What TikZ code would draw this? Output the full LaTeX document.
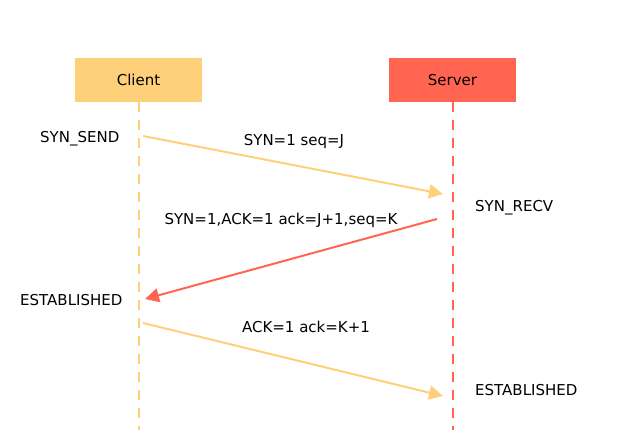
\documentclass[tikz,border=0pt]{standalone}
\usepackage{fontspec}
\setmainfont{DejaVu Sans}
\usetikzlibrary{arrows.meta}
\definecolor{cliC}{HTML}{FFD07A}
\definecolor{srvC}{HTML}{FF6550}
\begin{document}
\begin{tikzpicture}[x=1pt,y=-1pt,
  actor/.style={minimum width=127pt,minimum height=44pt,inner sep=0pt,font=\fontsize{15}{18}\selectfont},
  life/.style={line width=2pt,dash pattern=on 10pt off 8pt},
  msg/.style={line width=2pt,-{Triangle[length=14pt,width=14pt]}},
  lbl/.style={font=\fontsize{15}{18}\selectfont,inner sep=0pt}]
\useasboundingbox (0,0) rectangle (634,439);
\node[actor,fill=cliC] (client) at (138.5,80) {Client};
\node[actor,fill=srvC] (server) at (452.5,80) {Server};
\coordinate (cend) at (138.5,430);
\coordinate (send) at (452.5,430);
\draw[life,cliC] (client.south) -- (cend);
\draw[life,srvC] (server.south) -- (send);
\coordinate (a1s) at (143,136);
\coordinate (a1e) at (443,194);
\coordinate (a2s) at (437,219);
\coordinate (a2e) at (145,299);
\coordinate (a3s) at (143,323);
\coordinate (a3e) at (443,396);
\draw[msg,cliC] (a1s) -- (a1e);
\draw[msg,srvC] (a2s) -- (a2e);
\draw[msg,cliC] (a3s) -- (a3e);
\node[lbl] (l1) at (294,141) {SYN=1 seq=J};
\node[lbl] (l2) at (281,220) {SYN=1,ACK=1 ack=J+1,seq=K};
\node[lbl] (l3) at (306,327) {ACK=1 ack=K+1};
\node[lbl,anchor=west] (s1) at (40,139) {SYN\_SEND};
\node[lbl,anchor=west] (s2) at (475,208) {SYN\_RECV};
\node[lbl,anchor=west] (s3) at (20,300) {ESTABLISHED};
\node[lbl,anchor=west] (s4) at (475,390) {ESTABLISHED};
\end{tikzpicture}
\end{document}
